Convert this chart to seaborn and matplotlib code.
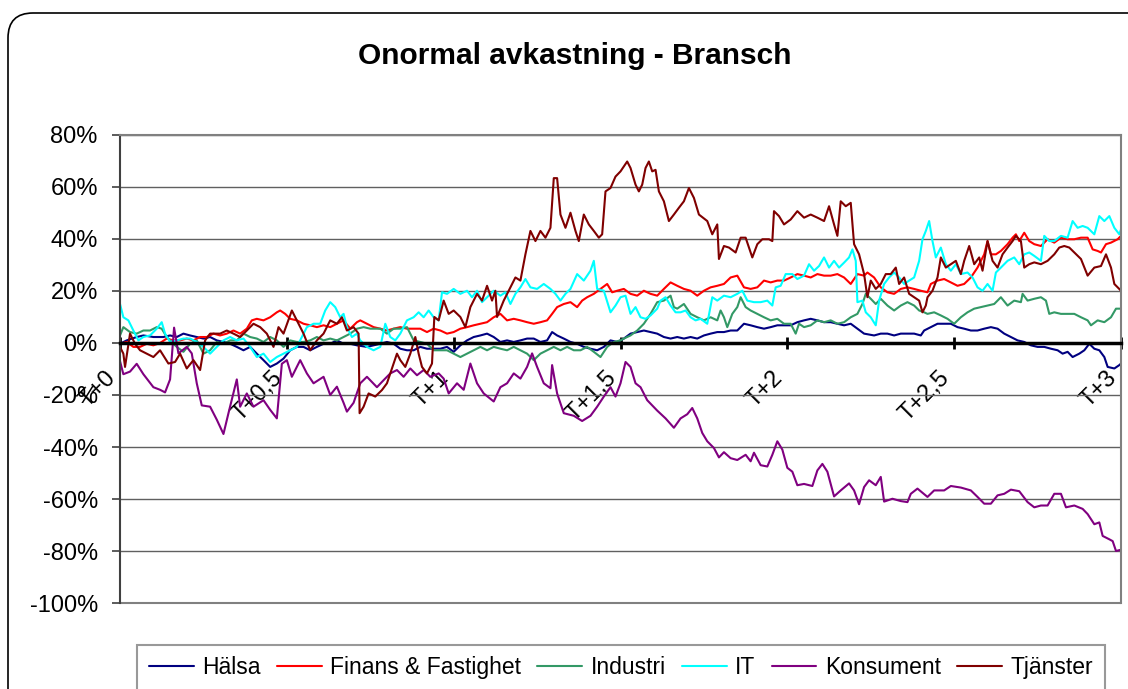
import pandas as pd
import seaborn as sns
import matplotlib.pyplot as plt
from matplotlib.lines import Line2D
from matplotlib.patches import FancyBboxPatch
from matplotlib.transforms import IdentityTransform
from matplotlib.ticker import FuncFormatter

sns.set_style("white")
plt.rcParams['font.family'] = ['Liberation Sans', 'DejaVu Sans']
plt.rcParams['text.color'] = 'black'
plt.rcParams['xtick.color'] = 'black'
plt.rcParams['ytick.color'] = 'black'

series_names = ["Hälsa", "Finans & Fastighet", "Industri", "IT", "Konsument", "Tjänster"]
series_colors = ["#000080", "#FF0000", "#339966", "#00FFFF", "#800080", "#800000"]

xtick_pos = [0, 0.5, 1, 1.5, 2, 2.5, 3]
xtick_labels = ["T+0", "T+0,5", "T+1", "T+1,5", "T+2", "T+2,5", "T+3"]
ytick_pos = list(range(-100, 81, 20))

# (years after event, abnormal return in %)
halsa = [(0.00,-0.3),(0.02,1.0),(0.05,2.3),(0.07,2.9),(0.10,2.3),(0.13,2.3),(0.15,2.9),(0.17,2.3),(0.19,3.6),(0.21,2.9),
         (0.23,2.3),(0.25,1.7),(0.27,2.3),(0.29,1.0),(0.31,0.4),(0.33,-0.3),(0.35,-1.5),(0.37,-2.8),(0.39,-1.5),(0.41,-4.1),
         (0.43,-6.6),(0.45,-9.2),(0.47,-7.9),(0.49,-6.0),(0.51,-2.8),(0.53,-1.5),(0.55,-1.5),(0.57,-2.8),(0.59,-1.5),(0.61,-0.3),
         (0.63,-0.3),(0.65,1.0),(0.67,-0.3),(0.69,-0.3),(0.71,-0.9),(0.74,-1.5),(0.76,-0.9),(0.78,-0.3),(0.80,0.4),(0.82,-0.3),
         (0.84,-2.2),(0.86,-2.8),(0.88,-2.8),(0.90,-1.5),(0.92,-2.2),(0.94,-2.2),(0.96,-2.2),(0.98,-1.5),(1.00,-3.4),(1.02,-0.9),
         (1.04,1.0),(1.06,2.3),(1.08,2.9),(1.10,3.6),(1.12,2.3),(1.14,0.4),(1.16,1.0),(1.18,0.4),(1.20,1.0),(1.22,1.7),
         (1.24,1.7),(1.26,0.4),(1.28,1.0),(1.295,4.2),(1.31,2.9),(1.33,1.7),(1.35,0.4),(1.37,-0.3),(1.39,-1.5),(1.41,-2.2),
         (1.43,-2.8),(1.45,-1.5),(1.47,1.0),(1.49,0.4),(1.51,1.7),(1.53,3.6),(1.55,4.2),(1.57,4.8),(1.59,4.2),(1.61,3.6),
         (1.63,2.3),(1.65,1.7),(1.67,2.3),(1.69,1.7),(1.71,2.3),(1.73,1.7),(1.75,2.9),(1.77,3.6),(1.79,4.2),(1.81,4.2),
         (1.83,4.8),(1.85,4.8),(1.87,7.4),(1.89,6.8),(1.91,6.1),(1.93,5.5),(1.95,6.1),(1.97,6.8),(1.99,6.8),(2.01,6.8),
         (2.03,8.0),(2.05,8.7),(2.07,9.3),(2.09,8.7),(2.11,8.0),(2.13,8.0),(2.15,7.4),(2.17,6.8),(2.19,7.4),(2.21,5.5),
         (2.23,3.6),(2.26,2.9),(2.28,3.6),(2.30,3.6),(2.32,2.9),(2.34,3.6),(2.36,3.6),(2.38,3.6),(2.40,2.9),(2.41,4.8),
         (2.43,6.1),(2.45,7.4),(2.47,7.4),(2.49,7.4),(2.51,6.1),(2.53,5.5),(2.55,4.8),(2.57,4.8),(2.59,5.5),(2.61,6.1),
         (2.63,5.5),(2.65,3.6),(2.67,2.3),(2.69,1.0),(2.71,0.4),(2.73,-0.9),(2.75,-1.5),(2.77,-1.5),(2.79,-2.2),(2.81,-2.8),
         (2.825,-4.1),(2.84,-3.4),(2.855,-5.4),(2.875,-4.1),(2.89,-2.8),(2.905,-0.3),(2.92,-2.2),(2.935,-2.8),(2.95,-5.4),(2.96,-9.2),
         (2.98,-9.8),(2.995,-8.5),(3.0,-7.9)]

finans = [(0.00,-0.3),(0.02,0.4),(0.04,-1.5),(0.06,-1.5),(0.08,-0.3),(0.10,-0.9),(0.12,0.0),(0.14,1.7),(0.16,1.0),(0.18,1.0),
          (0.20,1.7),(0.22,1.0),(0.24,2.3),(0.26,2.3),(0.28,3.6),(0.30,2.9),(0.32,3.6),(0.34,4.8),(0.36,3.6),(0.38,5.5),
          (0.395,8.7),(0.41,9.3),(0.43,8.7),(0.45,9.9),(0.47,11.8),(0.48,12.5),(0.495,11.2),(0.51,9.3),(0.53,8.7),(0.55,7.4),
          (0.57,6.8),(0.59,6.1),(0.61,6.8),(0.63,6.1),(0.65,7.4),(0.67,8.7),(0.69,5.5),(0.71,8.0),(0.72,8.7),(0.74,7.4),
          (0.76,6.1),(0.78,5.5),(0.80,4.8),(0.82,5.5),(0.84,6.1),(0.86,5.5),(0.88,5.5),(0.90,5.5),(0.92,4.2),(0.94,5.5),
          (0.96,4.8),(0.98,3.6),(1.00,4.2),(1.02,5.5),(1.04,6.1),(1.06,6.8),(1.08,7.4),(1.10,8.0),(1.12,9.9),(1.14,11.2),
          (1.16,8.7),(1.18,9.3),(1.20,8.7),(1.22,8.0),(1.24,7.4),(1.26,8.0),(1.28,8.7),(1.295,11.2),(1.31,13.8),(1.33,15.0),
          (1.35,15.7),(1.37,13.8),(1.385,16.3),(1.40,17.6),(1.42,18.9),(1.44,20.8),(1.46,22.7),(1.475,19.5),(1.49,20.1),(1.51,20.8),
          (1.53,18.9),(1.55,18.2),(1.57,20.1),(1.59,18.9),(1.61,18.2),(1.63,20.8),(1.65,23.3),(1.67,22.0),(1.69,20.8),(1.71,20.1),
          (1.73,18.2),(1.75,20.1),(1.77,21.4),(1.79,22.0),(1.81,22.7),(1.83,25.2),(1.85,25.9),(1.87,21.4),(1.89,20.8),(1.91,21.4),
          (1.93,24.0),(1.95,23.3),(1.97,24.0),(1.99,24.0),(2.01,25.2),(2.03,26.5),(2.05,25.9),(2.07,25.2),(2.09,26.5),(2.11,25.9),
          (2.13,25.9),(2.15,26.5),(2.17,25.2),(2.19,22.7),(2.21,26.5),(2.23,25.9),(2.24,27.1),(2.26,25.2),(2.28,21.4),(2.30,19.5),
          (2.32,18.9),(2.34,20.8),(2.36,21.4),(2.38,20.8),(2.40,20.1),(2.42,19.5),(2.43,22.7),(2.45,24.0),(2.47,24.6),(2.49,23.3),
          (2.51,22.0),(2.53,22.7),(2.55,25.2),(2.57,29.0),(2.59,34.1),(2.60,39.2),(2.61,34.1),(2.625,34.1),(2.64,35.4),(2.66,38.0),
          (2.675,40.5),(2.685,41.8),(2.695,39.2),(2.71,42.4),(2.725,39.2),(2.74,38.0),(2.76,37.3),(2.78,39.9),(2.80,38.6),(2.82,40.5),
          (2.84,39.9),(2.86,39.9),(2.88,40.5),(2.90,40.5),(2.915,36.0),(2.93,35.4),(2.94,34.8),(2.955,38.0),(2.97,38.6),(2.99,39.9),
          (3.0,41.2)]

industri = [(0.00,2.9),(0.01,6.1),(0.03,4.2),(0.05,3.6),(0.07,4.8),(0.09,4.8),(0.11,6.1),(0.125,5.5),(0.14,2.3),(0.155,0.4),
            (0.17,-1.5),(0.19,-3.4),(0.21,-0.3),(0.23,1.0),(0.25,-4.1),(0.27,-2.8),(0.29,0.4),(0.31,-0.3),(0.33,1.0),(0.35,1.0),
            (0.37,3.6),(0.39,2.3),(0.41,1.7),(0.43,0.4),(0.45,2.3),(0.47,1.0),(0.49,-1.5),(0.51,1.0),(0.53,0.4),(0.55,0.4),
            (0.57,1.0),(0.59,2.3),(0.61,1.0),(0.63,1.7),(0.65,1.0),(0.67,2.3),(0.69,3.6),(0.71,5.5),(0.73,6.1),(0.75,5.5),
            (0.78,5.5),(0.80,3.6),(0.82,5.5),(0.84,5.5),(0.86,6.1),(0.88,1.0),(0.90,0.4),(0.92,-0.3),(0.94,-2.8),(0.96,-2.8),
            (0.98,-2.8),(1.00,-4.1),(1.02,-5.4),(1.04,-4.1),(1.06,-2.8),(1.08,-1.5),(1.10,-2.8),(1.12,-1.5),(1.14,-2.2),(1.16,-2.8),
            (1.18,-1.5),(1.20,-2.8),(1.22,-4.1),(1.24,-6.6),(1.26,-4.1),(1.28,-2.8),(1.30,-1.5),(1.32,-2.8),(1.34,-1.5),(1.36,-2.8),
            (1.38,-2.8),(1.40,-1.5),(1.42,-3.4),(1.44,-5.4),(1.46,-1.5),(1.48,0.4),(1.50,1.0),(1.51,1.7),(1.53,2.9),(1.55,4.8),
            (1.57,7.4),(1.59,11.2),(1.61,15.7),(1.63,16.3),(1.65,18.2),(1.66,13.8),(1.67,13.2),(1.69,15.0),(1.71,11.2),(1.73,9.9),
            (1.75,8.7),(1.77,9.9),(1.79,8.7),(1.80,12.5),(1.81,9.9),(1.82,6.1),(1.835,11.2),(1.85,13.8),(1.86,17.6),(1.875,13.8),
            (1.89,12.5),(1.91,11.2),(1.93,9.9),(1.95,8.7),(1.97,9.3),(1.99,7.4),(2.01,7.4),(2.025,3.6),(2.035,7.4),(2.05,6.1),
            (2.07,6.8),(2.09,8.7),(2.11,8.0),(2.13,8.7),(2.15,7.4),(2.17,8.0),(2.19,9.9),(2.21,11.2),(2.225,15.0),(2.235,18.9),
            (2.25,17.0),(2.265,15.0),(2.28,17.0),(2.30,14.4),(2.32,12.5),(2.34,14.4),(2.36,15.7),(2.38,14.4),(2.395,12.5),(2.41,11.8),
            (2.42,11.2),(2.44,11.8),(2.46,10.6),(2.48,9.3),(2.50,7.4),(2.52,9.9),(2.54,11.8),(2.56,13.2),(2.58,13.8),(2.60,14.4),
            (2.62,15.0),(2.64,17.6),(2.66,14.4),(2.68,16.3),(2.70,15.7),(2.705,18.9),(2.72,16.3),(2.74,17.0),(2.76,17.6),(2.775,16.3),
            (2.785,11.2),(2.80,11.8),(2.82,11.2),(2.84,11.2),(2.86,11.2),(2.88,9.9),(2.90,8.7),(2.91,6.8),(2.93,8.7),(2.95,8.0),
            (2.97,9.9),(2.985,13.2),(3.0,13.2)]

it = [(0.00,15.0),(0.01,9.9),(0.025,8.7),(0.04,4.8),(0.055,1.0),(0.07,2.3),(0.09,2.9),(0.11,5.5),(0.125,8.0),(0.135,3.6),
      (0.15,0.4),(0.17,1.0),(0.19,1.7),(0.21,1.7),(0.23,0.4),(0.25,-1.5),(0.27,-4.1),(0.29,-1.5),(0.31,1.0),(0.33,2.3),
      (0.35,1.0),(0.37,1.7),(0.39,-1.5),(0.41,-5.4),(0.43,-4.1),(0.45,-7.3),(0.47,-5.4),(0.49,-4.1),(0.51,-2.8),(0.53,-1.5),
      (0.545,2.3),(0.56,6.1),(0.58,7.4),(0.60,7.4),(0.615,12.5),(0.63,15.7),(0.645,13.8),(0.66,9.9),(0.67,11.2),(0.68,6.1),
      (0.695,2.3),(0.71,3.6),(0.72,1.0),(0.74,-1.5),(0.76,-2.8),(0.78,-1.5),(0.795,7.4),(0.81,2.3),(0.825,1.0),(0.84,3.6),
      (0.86,8.7),(0.88,9.9),(0.895,11.8),(0.91,9.9),(0.925,12.5),(0.94,9.9),(0.955,8.7),(0.965,19.5),(0.98,18.9),(1.00,20.8),
      (1.02,18.9),(1.04,20.1),(1.055,17.6),(1.07,20.1),(1.085,15.7),(1.10,17.6),(1.12,20.1),(1.14,18.2),(1.155,19.5),(1.17,15.0),
      (1.185,18.9),(1.20,21.4),(1.215,24.6),(1.23,21.4),(1.25,20.8),(1.27,22.7),(1.29,20.8),(1.305,18.9),(1.32,16.3),(1.335,18.9),
      (1.35,20.8),(1.37,26.5),(1.39,24.0),(1.41,27.8),(1.42,31.6),(1.43,20.8),(1.45,20.1),(1.47,11.8),(1.485,14.4),(1.50,17.6),
      (1.515,18.2),(1.53,11.2),(1.545,13.8),(1.56,9.9),(1.575,9.3),(1.59,10.6),(1.61,13.2),(1.62,16.3),(1.635,17.6),(1.65,14.4),
      (1.665,11.8),(1.68,11.8),(1.695,12.5),(1.71,9.9),(1.725,8.7),(1.74,9.3),(1.76,7.4),(1.775,17.6),(1.79,16.3),(1.81,18.2),
      (1.83,17.6),(1.85,18.9),(1.865,20.1),(1.88,16.3),(1.90,15.7),(1.92,15.7),(1.94,16.3),(1.955,14.4),(1.965,21.4),(1.98,22.0),
      (1.995,26.5),(2.015,26.5),(2.03,24.6),(2.05,25.9),(2.065,30.3),(2.08,27.8),(2.095,29.6),(2.11,32.9),(2.125,29.0),(2.14,31.6),
      (2.155,29.0),(2.17,30.9),(2.185,32.9),(2.195,36.0),(2.205,31.6),(2.21,15.7),(2.225,16.3),(2.235,11.8),(2.25,9.9),(2.265,6.8),
      (2.275,16.3),(2.29,22.7),(2.305,25.2),(2.32,27.1),(2.335,25.2),(2.35,22.7),(2.365,24.0),(2.38,25.2),(2.395,31.6),(2.405,39.9),
      (2.415,43.1),(2.425,46.9),(2.435,39.2),(2.445,32.9),(2.46,36.7),(2.475,30.3),(2.49,27.8),(2.505,30.3),(2.52,26.5),(2.54,27.1),
      (2.555,25.2),(2.57,21.4),(2.585,20.1),(2.60,22.7),(2.615,20.1),(2.625,27.1),(2.64,29.0),(2.66,31.6),(2.68,32.9),(2.695,30.3),
      (2.71,34.1),(2.725,34.8),(2.74,33.5),(2.76,31.6),(2.77,41.2),(2.785,39.2),(2.80,39.2),(2.82,41.2),(2.84,40.5),(2.855,46.9),
      (2.87,44.3),(2.885,45.0),(2.90,44.3),(2.92,41.8),(2.935,48.8),(2.95,46.9),(2.965,48.8),(2.98,44.3),(2.995,41.8),(3.0,43.7)]

konsument = [(0.00,-7.0),(0.01,-12.0),(0.03,-11.0),(0.05,-8.0),(0.07,-12.0),(0.10,-17.0),(0.12,-18.0),(0.135,-19.0),(0.15,-14.0),(0.16,2.3),
             (0.162,5.9),(0.175,-4.0),(0.20,-1.5),(0.215,-4.0),(0.23,-15.5),(0.245,-24.0),(0.27,-24.5),(0.29,-29.5),(0.31,-35.0),(0.325,-27.0),
             (0.35,-14.0),(0.36,-24.5),(0.38,-19.4),(0.40,-24.5),(0.43,-22.0),(0.45,-25.7),(0.47,-29.0),(0.485,-8.0),(0.50,-6.6),(0.515,-13.0),
             (0.54,-6.6),(0.56,-11.7),(0.58,-15.5),(0.61,-13.0),(0.63,-20.0),(0.65,-16.8),(0.67,-23.0),(0.68,-26.4),(0.70,-23.0),(0.72,-15.5),
             (0.74,-13.0),(0.77,-17.0),(0.79,-14.3),(0.81,-11.7),(0.83,-10.4),(0.85,-13.0),(0.87,-9.8),(0.89,-12.4),(0.91,-10.4),(0.93,-13.0),
             (0.955,-11.7),(0.97,-13.7),(0.985,-19.4),(1.01,-15.5),(1.03,-18.0),(1.05,-7.9),(1.07,-15.5),(1.09,-19.4),(1.12,-22.5),(1.14,-17.0),
             (1.16,-15.5),(1.18,-11.7),(1.20,-13.7),(1.22,-9.2),(1.235,-4.0),(1.25,-9.2),(1.27,-15.5),(1.29,-17.4),(1.295,-8.5),(1.31,-19.4),
             (1.33,-27.0),(1.36,-28.0),(1.385,-30.0),(1.41,-28.0),(1.43,-24.5),(1.45,-20.6),(1.47,-17.0),(1.485,-20.6),(1.50,-15.5),(1.515,-7.3),
             (1.53,-9.2),(1.545,-15.5),(1.56,-17.0),(1.58,-22.0),(1.61,-26.0),(1.635,-29.0),(1.66,-32.6),(1.68,-29.0),(1.70,-27.4),(1.715,-25.0),
             (1.73,-29.0),(1.745,-34.6),(1.76,-37.8),(1.78,-40.4),(1.795,-44.0),(1.81,-42.0),(1.83,-44.3),(1.85,-45.0),(1.875,-43.0),(1.89,-45.5),
             (1.90,-42.2),(1.92,-47.0),(1.94,-47.5),(1.955,-43.0),(1.97,-37.8),(1.985,-41.0),(2.0,-48.0),(2.015,-49.5),(2.03,-54.7),(2.05,-54.2),
             (2.075,-55.0),(2.09,-49.0),(2.105,-46.5),(2.12,-49.5),(2.14,-59.0),(2.16,-56.7),(2.185,-54.0),(2.20,-56.7),(2.215,-62.0),(2.23,-55.4),
             (2.245,-52.8),(2.265,-54.7),(2.28,-51.5),(2.29,-61.0),(2.315,-59.9),(2.34,-60.8),(2.36,-61.2),(2.37,-58.0),(2.39,-56.0),(2.42,-59.2),
             (2.44,-56.7),(2.47,-56.7),(2.49,-55.0),(2.52,-55.6),(2.55,-56.7),(2.57,-59.2),(2.59,-61.8),(2.61,-61.8),(2.63,-58.6),(2.65,-58.0),
             (2.67,-56.4),(2.695,-57.0),(2.72,-61.2),(2.74,-63.2),(2.76,-62.5),(2.78,-62.5),(2.80,-58.0),(2.82,-58.0),(2.835,-63.2),(2.86,-62.5),
             (2.885,-63.8),(2.90,-65.8),(2.92,-69.7),(2.935,-69.0),(2.945,-74.2),(2.965,-75.5),(2.975,-76.2),(2.985,-80.0),(3.0,-79.5)]

tjanster = [(0.00,-1.5),(0.01,-4.1),(0.015,-9.2),(0.03,3.6),(0.045,-0.3),(0.06,-2.8),(0.08,-4.1),(0.10,-5.4),(0.12,-2.8),(0.145,-7.9),
            (0.165,-7.3),(0.18,-4.1),(0.20,-9.8),(0.22,-6.6),(0.24,-10.4),(0.255,1.0),(0.27,3.6),(0.30,3.6),(0.32,4.8),(0.34,3.6),
            (0.36,2.3),(0.38,4.8),(0.40,7.4),(0.42,6.1),(0.44,3.6),(0.46,-1.5),(0.475,6.1),(0.49,3.6),(0.515,12.5),(0.53,8.7),
            (0.55,3.6),(0.57,-2.8),(0.59,1.0),(0.61,3.6),(0.63,8.7),(0.65,7.4),(0.665,9.9),(0.68,4.8),(0.70,6.1),(0.715,3.6),
            (0.718,-27.0),(0.73,-24.5),(0.745,-19.4),(0.765,-20.6),(0.785,-18.1),(0.80,-15.5),(0.815,-9.8),(0.83,-4.1),(0.84,-6.6),(0.855,-9.2),
            (0.87,-4.1),(0.885,2.3),(0.895,-4.1),(0.905,-9.2),(0.92,-11.7),(0.935,-7.9),(0.942,10.0),(0.955,8.7),(0.97,16.3),(0.985,11.2),
            (1.00,12.5),(1.02,10.0),(1.035,6.1),(1.05,13.8),(1.07,18.9),(1.085,16.3),(1.10,22.0),(1.115,16.3),(1.125,20.1),(1.13,10.0),
            (1.15,16.3),(1.17,21.4),(1.185,25.2),(1.20,24.0),(1.215,34.1),(1.23,43.1),(1.245,39.2),(1.26,43.1),(1.275,40.5),(1.29,44.3),
            (1.30,63.4),(1.31,63.4),(1.32,49.4),(1.335,44.3),(1.35,50.1),(1.365,43.1),(1.375,39.2),(1.39,49.4),(1.405,45.6),(1.42,43.1),
            (1.435,40.5),(1.445,41.8),(1.455,58.3),(1.47,59.6),(1.485,64.0),(1.50,66.0),(1.51,67.9),(1.52,69.8),(1.53,67.3),(1.545,60.9),
            (1.555,58.3),(1.565,60.9),(1.575,67.3),(1.585,69.8),(1.595,66.0),(1.605,66.6),(1.615,58.3),(1.63,54.5),(1.645,46.9),(1.66,49.4),
            (1.675,52.0),(1.69,54.5),(1.705,59.6),(1.72,55.8),(1.735,49.4),(1.76,46.9),(1.775,41.8),(1.79,45.6),(1.795,32.3),(1.81,37.3),
            (1.825,36.7),(1.845,34.8),(1.86,40.5),(1.875,40.5),(1.895,32.9),(1.91,38.0),(1.925,39.9),(1.945,39.9),(1.955,39.2),(1.96,50.7),
            (1.975,48.8),(1.99,45.6),(2.01,47.5),(2.03,50.7),(2.05,48.2),(2.07,49.4),(2.09,48.2),(2.11,46.9),(2.125,52.6),(2.14,45.6),
            (2.15,41.2),(2.16,54.5),(2.175,52.6),(2.19,53.9),(2.20,38.0),(2.215,34.1),(2.23,26.5),(2.24,17.6),(2.25,24.0),(2.265,20.8),
            (2.28,22.7),(2.295,26.5),(2.31,26.5),(2.325,29.0),(2.335,22.7),(2.35,25.2),(2.365,18.9),(2.38,17.6),(2.395,16.3),(2.405,11.8),
            (2.415,14.4),(2.42,17.6),(2.435,20.1),(2.45,25.2),(2.46,32.9),(2.475,29.0),(2.49,30.3),(2.505,31.6),(2.52,26.5),(2.53,31.6),
            (2.545,37.3),(2.56,30.3),(2.575,32.9),(2.585,27.8),(2.60,39.2),(2.615,31.6),(2.63,29.0),(2.645,34.1),(2.66,36.7),(2.675,39.2),
            (2.685,41.2),(2.70,39.2),(2.71,29.0),(2.725,30.3),(2.74,31.0),(2.76,30.3),(2.78,31.6),(2.80,34.1),(2.815,36.7),(2.83,37.3),
            (2.845,36.7),(2.86,34.8),(2.88,32.3),(2.90,25.9),(2.92,29.0),(2.94,29.6),(2.955,34.1),(2.97,29.0),(2.98,22.7),(3.0,20.1)]

all_series = [halsa, finans, industri, it, konsument, tjanster]

frames = []
for name, pts in zip(series_names, all_series):
    t, v = zip(*pts)
    frames.append(pd.DataFrame({"t": t, "ret": v, "serie": name}))
df = pd.concat(frames, ignore_index=True)

fig = plt.figure(figsize=(11.28, 6.89), dpi=100)
ax = fig.add_axes([0.1064, 0.1248, 0.8874, 0.6793])

sns.lineplot(data=df, x="t", y="ret", hue="serie", hue_order=series_names,
             palette=series_colors, estimator=None, sort=False, lw=1.5,
             legend=False, ax=ax)

ax.set_xlim(0, 3)
ax.set_ylim(-100, 80)
ax.set_yticks(ytick_pos)
ax.yaxis.set_major_formatter(FuncFormatter(lambda v, p: f"{v:.0f}%"))
ax.yaxis.grid(True, color="#606060", lw=1)
ax.set_axisbelow(True)
ax.set_xlabel("")
ax.set_ylabel("")

# x axis sits on the zero line, like Excel
ax.spines['bottom'].set_position(('data', 0))
ax.spines['bottom'].set_color("black")
ax.spines['bottom'].set_linewidth(2.5)
ax.spines['left'].set_color("#404040")
ax.spines['left'].set_linewidth(1.5)
for s in ['top', 'right']:
    ax.spines[s].set_visible(True)
    ax.spines[s].set_color("#808080")
    ax.spines[s].set_linewidth(1.5)
ax.axhline(-100, color="#808080", lw=1.5, clip_on=False)

ax.set_xticks(xtick_pos)
ax.set_xticklabels(xtick_labels, rotation=45, ha='right', fontsize=17)
ax.tick_params(axis='x', direction='inout', length=9, width=2, pad=13, bottom=True)
ax.tick_params(axis='y', direction='out', length=6, width=1.2, color="#404040",
               labelsize=17, pad=10, left=True)

fig.text(575 / 1128, 1 - 56 / 689, "Onormal avkastning - Bransch",
         ha='center', va='center', fontsize=21.5, fontweight='bold', color='black')

handles = [Line2D([], [], color=c, lw=1.5) for c in series_colors]
leg = fig.legend(handles, series_names, loc='upper center',
                 bbox_to_anchor=(621 / 1128, 1 - 645 / 689), ncol=6, fontsize=16.5,
                 frameon=True, fancybox=False, edgecolor="#808080",
                 handlelength=1.95, handletextpad=0.38, columnspacing=0.7,
                 borderpad=0.5, borderaxespad=0)
leg.get_frame().set_linewidth(1.5)

# rounded chart-area border (runs off the right and bottom edges)
border = FancyBboxPatch((8, -60), 1160, 689 - 13 + 60,
                        boxstyle="round,pad=0,rounding_size=25",
                        transform=IdentityTransform(), fill=False,
                        ec="black", lw=1.2)
fig.add_artist(border)

fig.savefig("out.png", dpi=100)
